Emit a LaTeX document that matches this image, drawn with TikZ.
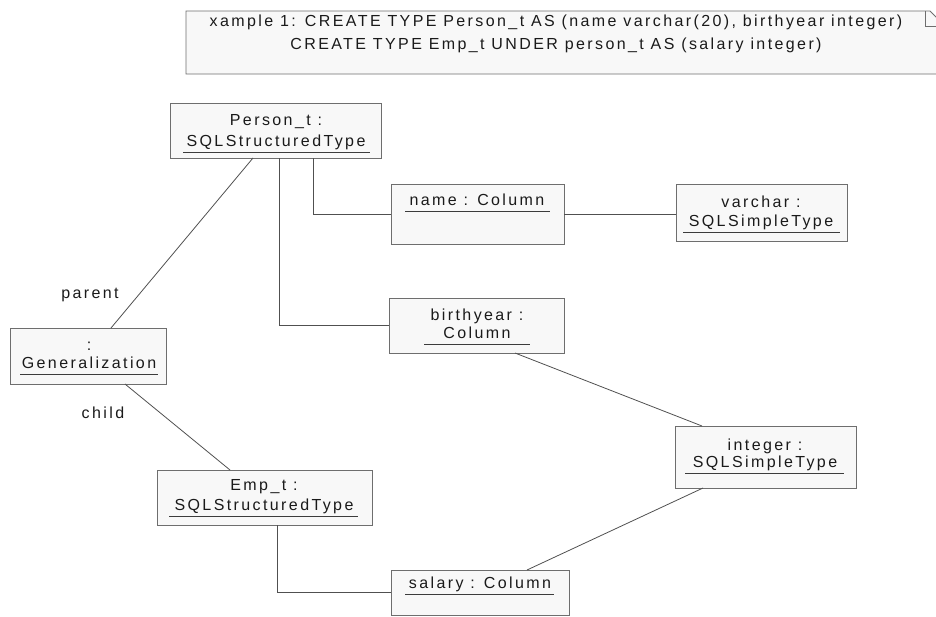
\documentclass[tikz,border=0pt]{standalone}
\usepackage{fontspec}
\setmainfont{Liberation Sans}[LetterSpace=15]
\usetikzlibrary{calc}
\definecolor{boxfill}{HTML}{F8F8F8}
\definecolor{boxline}{HTML}{6E6E6E}
\definecolor{wirecol}{HTML}{505050}
\definecolor{ink}{HTML}{1A1A1A}
\tikzset{
  obj/.style={draw=boxline, fill=boxfill, line width=0.9pt, inner sep=0pt, outer sep=0pt},
  lbl/.style={text=ink, font=\fontsize{16}{19}\selectfont, inner sep=0pt, anchor=base},
  uline/.style={draw=ink!85, line width=0.9pt},
  wire/.style={draw=wirecol, line width=0.8pt},
}
\begin{document}
\begin{tikzpicture}[x=1pt, y=-1pt]
\useasboundingbox (0,0) rectangle (936,616);

% comment note with folded corner
\path[fill=boxfill] (186,11) -- (930,11) -- (950,31) -- (950,74) -- (186,74) -- cycle;
\draw[boxline, line width=0.9pt] (950,74) -- (186,74) -- (186,11) -- (930,11) -- (950,31);
\draw[boxline, line width=0.9pt] (925,11) -- (925,26) -- (941,26);
\node[lbl, anchor=base] (note1) at (556,26) {xample 1: CREATE TYPE Person\_t AS (name varchar(20), birthyear integer)};
\node[lbl, anchor=base] (note2) at (556,49) {CREATE TYPE Emp\_t UNDER person\_t AS (salary integer)};

% object boxes
\node[obj, minimum width=211pt, minimum height=55pt] (person) at (275.5,130.5) {};
\node[obj, minimum width=156pt, minimum height=56pt] (gen)    at (88,356) {};
\node[obj, minimum width=173pt, minimum height=60pt] (name)   at (477.5,214) {};
\node[obj, minimum width=171pt, minimum height=57pt] (varchar) at (761.5,212.5) {};
\node[obj, minimum width=175pt, minimum height=55pt] (birth)  at (476.5,325.5) {};
\node[obj, minimum width=215pt, minimum height=55pt] (emp)    at (264.5,497.5) {};
\node[obj, minimum width=181pt, minimum height=62pt] (int)    at (765.5,457) {};
\node[obj, minimum width=178pt, minimum height=45pt] (salary) at (480,592.5) {};

% object labels
\node[lbl] (personA) at (276,125) {Person\_t :};
\node[lbl] (personB) at (276,146) {SQLStructuredType};
\draw[uline] (183,152) -- (370,152);

\node[lbl] (genA) at (89,350) {:};
\node[lbl] (genB) at (89,368) {Generalization};
\draw[uline] (20,374) -- (158,374);

\node[lbl] (nameA) at (477,205) {name : Column};
\draw[uline] (405,211) -- (550,211);

\node[lbl] (varA) at (761,207) {varchar :};
\node[lbl] (varB) at (761,226) {SQLSimpleType};
\draw[uline] (683,232) -- (840,232);

\node[lbl] (birthA) at (477,320) {birthyear :};
\node[lbl] (birthB) at (477,338) {Column};
\draw[uline] (424,344) -- (530,344);

\node[lbl] (empA) at (264,490) {Emp\_t :};
\node[lbl] (empB) at (264,510) {SQLStructuredType};
\draw[uline] (169,516) -- (358,516);

\node[lbl] (intA) at (765,450) {integer :};
\node[lbl] (intB) at (765,467) {SQLSimpleType};
\draw[uline] (685,473) -- (844,473);

\node[lbl] (salA) at (480,588) {salary : Column};
\draw[uline] (405,594) -- (554,594);

% role labels
\node[lbl] (parent) at (90,298) {parent};
\node[lbl] (child)  at (103,418) {child};

% connectors
\coordinate (pnx) at (313,0);
\coordinate (pbx) at (279,0);
\coordinate (esx) at (277,0);
\draw[wire] ($(person.south west)+(83,0)$) -- ($(gen.north west)+(101,0)$);
\draw[wire] (person.south -| pnx) |- (name.west);
\draw[wire] (person.south -| pbx) |- (birth.west);
\draw[wire] (name.east) -- (name.east -| varchar.west);
\draw[wire] ($(birth.south west)+(126,0)$) -- ($(int.north west)+(27,0)$);
\draw[wire] ($(int.south west)+(28,0)$) -- ($(salary.north west)+(136,0)$);
\draw[wire] ($(gen.south west)+(115,0)$) -- ($(emp.north west)+(73,0)$);
\draw[wire] (emp.south -| esx) |- (salary.west);
\end{tikzpicture}
\end{document}
